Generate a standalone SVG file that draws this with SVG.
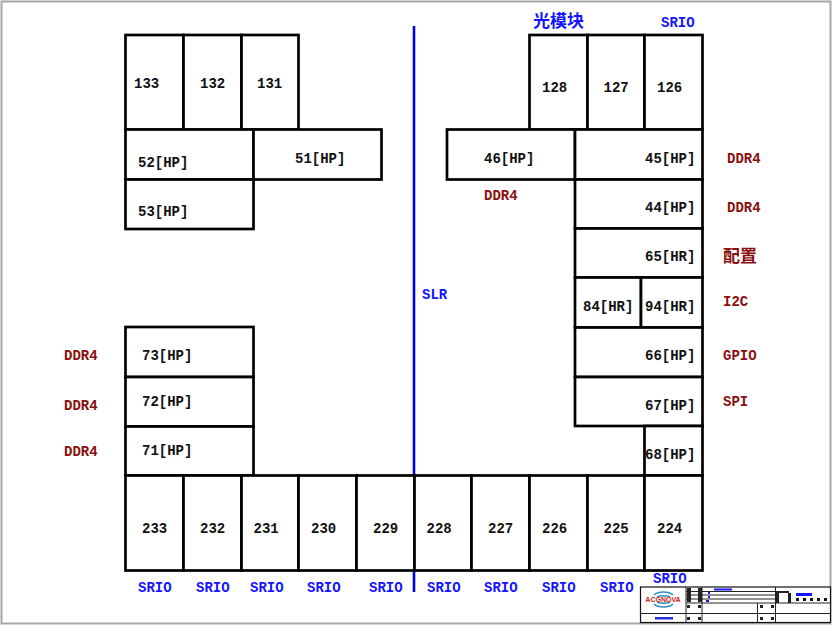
<svg xmlns="http://www.w3.org/2000/svg" width="832" height="626" viewBox="0 0 832 626">
<style>
.b{fill:#fff;stroke:#000;stroke-width:2.7}
.t{font-family:"Liberation Mono",monospace;font-weight:700;font-size:14px;fill:#111}
.r{fill:#8b0f0f}
.u{fill:#1414ff}
.c{font-family:"Noto Sans CJK SC",sans-serif;font-size:17px}
.l{fill:none;stroke:#222;stroke-width:1}
</style>
<rect width="832" height="626" fill="#fff"/>
<rect x="1.500" y="1.500" width="829" height="622" fill="none" stroke="#a6a6a6" stroke-width="2"/>
<g id="connectors">
<line x1="414" y1="26" x2="414" y2="592" stroke="#0000e6" stroke-width="2.6"/>
</g>
<g id="n133"><rect class="b" x="125.500" y="35" width="58" height="94.500"/><text class="t" x="134" y="88">133</text></g>
<g id="n132"><rect class="b" x="183.500" y="35" width="58" height="94.500"/><text class="t" x="200" y="88">132</text></g>
<g id="n131"><rect class="b" x="241.500" y="35" width="57" height="94.500"/><text class="t" x="257" y="88">131</text></g>
<g id="n128"><rect class="b" x="529.500" y="35" width="58" height="94.500"/><text class="t" x="542" y="92">128</text></g>
<g id="n127"><rect class="b" x="587.500" y="35" width="57" height="94.500"/><text class="t" x="603.500" y="92">127</text></g>
<g id="n126"><rect class="b" x="644.500" y="35" width="58" height="94.500"/><text class="t" x="657" y="92">126</text></g>
<g id="n52"><rect class="b" x="125.500" y="129.500" width="128" height="50"/><text class="t" x="138" y="167">52[HP]</text></g>
<g id="n51"><rect class="b" x="253.500" y="129.500" width="128" height="50"/><text class="t" x="295" y="163">51[HP]</text></g>
<g id="n53"><rect class="b" x="125.500" y="179.500" width="128" height="49.500"/><text class="t" x="138" y="216">53[HP]</text></g>
<g id="n46"><rect class="b" x="447" y="129.500" width="128" height="50"/><text class="t" x="484" y="163">46[HP]</text></g>
<g id="n45"><rect class="b" x="575" y="129.500" width="127.500" height="50"/><text class="t" x="645" y="163">45[HP]</text></g>
<g id="n44"><rect class="b" x="575" y="179.500" width="127.500" height="49"/><text class="t" x="645" y="212">44[HP]</text></g>
<g id="n65"><rect class="b" x="575" y="228.500" width="127.500" height="49"/><text class="t" x="645" y="261">65[HR]</text></g>
<g id="n84"><rect class="b" x="575" y="277.500" width="66" height="50"/><text class="t" x="583" y="311">84[HR]</text></g>
<g id="n94"><rect class="b" x="641" y="277.500" width="61.500" height="50"/><text class="t" x="645" y="311">94[HR]</text></g>
<g id="n66"><rect class="b" x="575" y="327.500" width="127.500" height="49.500"/><text class="t" x="645" y="360">66[HP]</text></g>
<g id="n67"><rect class="b" x="575" y="377" width="127.500" height="49"/><text class="t" x="645" y="410">67[HP]</text></g>
<g id="n68"><rect class="b" x="644.500" y="426" width="58" height="49.500"/><text class="t" x="645" y="459">68[HP]</text></g>
<g id="n73"><rect class="b" x="125.500" y="327" width="128" height="50"/><text class="t" x="142" y="360">73[HP]</text></g>
<g id="n72"><rect class="b" x="125.500" y="377" width="128" height="49.500"/><text class="t" x="142" y="406">72[HP]</text></g>
<g id="n71"><rect class="b" x="125.500" y="426.500" width="128" height="49"/><text class="t" x="142" y="455">71[HP]</text></g>
<g id="n233"><rect class="b" x="125.500" y="475.500" width="58" height="95"/><text class="t" x="142" y="533">233</text></g>
<g id="n232"><rect class="b" x="183.500" y="475.500" width="58" height="95"/><text class="t" x="200" y="533">232</text></g>
<g id="n231"><rect class="b" x="241.500" y="475.500" width="57" height="95"/><text class="t" x="253.500" y="533">231</text></g>
<g id="n230"><rect class="b" x="298.500" y="475.500" width="58" height="95"/><text class="t" x="311" y="533">230</text></g>
<g id="n229"><rect class="b" x="356.500" y="475.500" width="58" height="95"/><text class="t" x="373" y="533">229</text></g>
<g id="n228"><rect class="b" x="414.500" y="475.500" width="57" height="95"/><text class="t" x="426.500" y="533">228</text></g>
<g id="n227"><rect class="b" x="471.500" y="475.500" width="58" height="95"/><text class="t" x="488" y="533">227</text></g>
<g id="n226"><rect class="b" x="529.500" y="475.500" width="58" height="95"/><text class="t" x="542" y="533">226</text></g>
<g id="n225"><rect class="b" x="587.500" y="475.500" width="57" height="95"/><text class="t" x="603.500" y="533">225</text></g>
<g id="n224"><rect class="b" x="644.500" y="475.500" width="58" height="95"/><text class="t" x="657" y="533">224</text></g>
<g id="labels">
<text class="t u c" x="533" y="27">光模块</text>
<text class="t u" x="661" y="27">SRIO</text>
<text class="t r" x="727" y="163">DDR4</text>
<text class="t r" x="727" y="212">DDR4</text>
<text class="t r" x="484" y="200">DDR4</text>
<text class="t r c" x="723" y="262">配置</text>
<text class="t r" x="723" y="306">I2C</text>
<text class="t r" x="723" y="360">GPIO</text>
<text class="t r" x="723" y="406">SPI</text>
<text class="t r" x="64" y="360">DDR4</text>
<text class="t r" x="64" y="410">DDR4</text>
<text class="t r" x="64" y="456">DDR4</text>
<text class="t u" x="422" y="299">SLR</text>
<text class="t u" x="138" y="592">SRIO</text>
<text class="t u" x="196" y="592">SRIO</text>
<text class="t u" x="250" y="592">SRIO</text>
<text class="t u" x="307" y="592">SRIO</text>
<text class="t u" x="369" y="592">SRIO</text>
<text class="t u" x="427" y="592">SRIO</text>
<text class="t u" x="484" y="592">SRIO</text>
<text class="t u" x="542" y="592">SRIO</text>
<text class="t u" x="600" y="592">SRIO</text>
<text class="t u" x="653" y="583">SRIO</text>
</g>
<g id="titleblock">
<rect x="640.500" y="587" width="190" height="35.500" fill="#fff" stroke="#111" stroke-width="1.200"/>
<path class="l" d="M640.500 613.500H830.500M686 587V622.500M702 587V622.500M757.500 603V622.500M775.500 587V622.500M686 591.500H775.500M686 595H775.500M686 599H775.500M686 603H830.500"/>
<path d="M687 588h4v14h-4zM698 588h4v14h-4zM776 591h13v2h-13zM788 593h3v10h-3zM776 593h3v10h-3z" fill="#222"/>
<path d="M714 588.500h18v2h-18zM708 592h2v2h-2zM708 596h2v2h-2zM706 600h3v2h-3zM796 593h16v3h-16z" fill="#1414ff"/>
<path d="M796 599.500H830" stroke="#111" stroke-width="3" stroke-dasharray="3 4" fill="none"/>
<path d="M687 605h3v3h-3zM698 605h3v3h-3zM760 605h3v3h-3zM771 605h3v3h-3zM687 617h3v3h-3zM698 617h3v3h-3zM760 617h3v3h-3zM771 617h3v3h-3z" fill="#222"/>
<path d="M654 595a11 6 0 0 1 19 0M657 597a8 3 0 0 1 13 0M654 604a11 6 0 0 0 19 0M657 602a8 3 0 0 0 13 0" fill="none" stroke="#2f8fc4" stroke-width="1.500"/>
<text x="663" y="602" text-anchor="middle" font-family="'Liberation Sans',sans-serif" font-weight="700" font-size="7px" fill="#d02020">ACGNOVA</text>
<rect x="655" y="617" width="18" height="2.500" fill="#2a2ae0"/>
</g>
</svg>
